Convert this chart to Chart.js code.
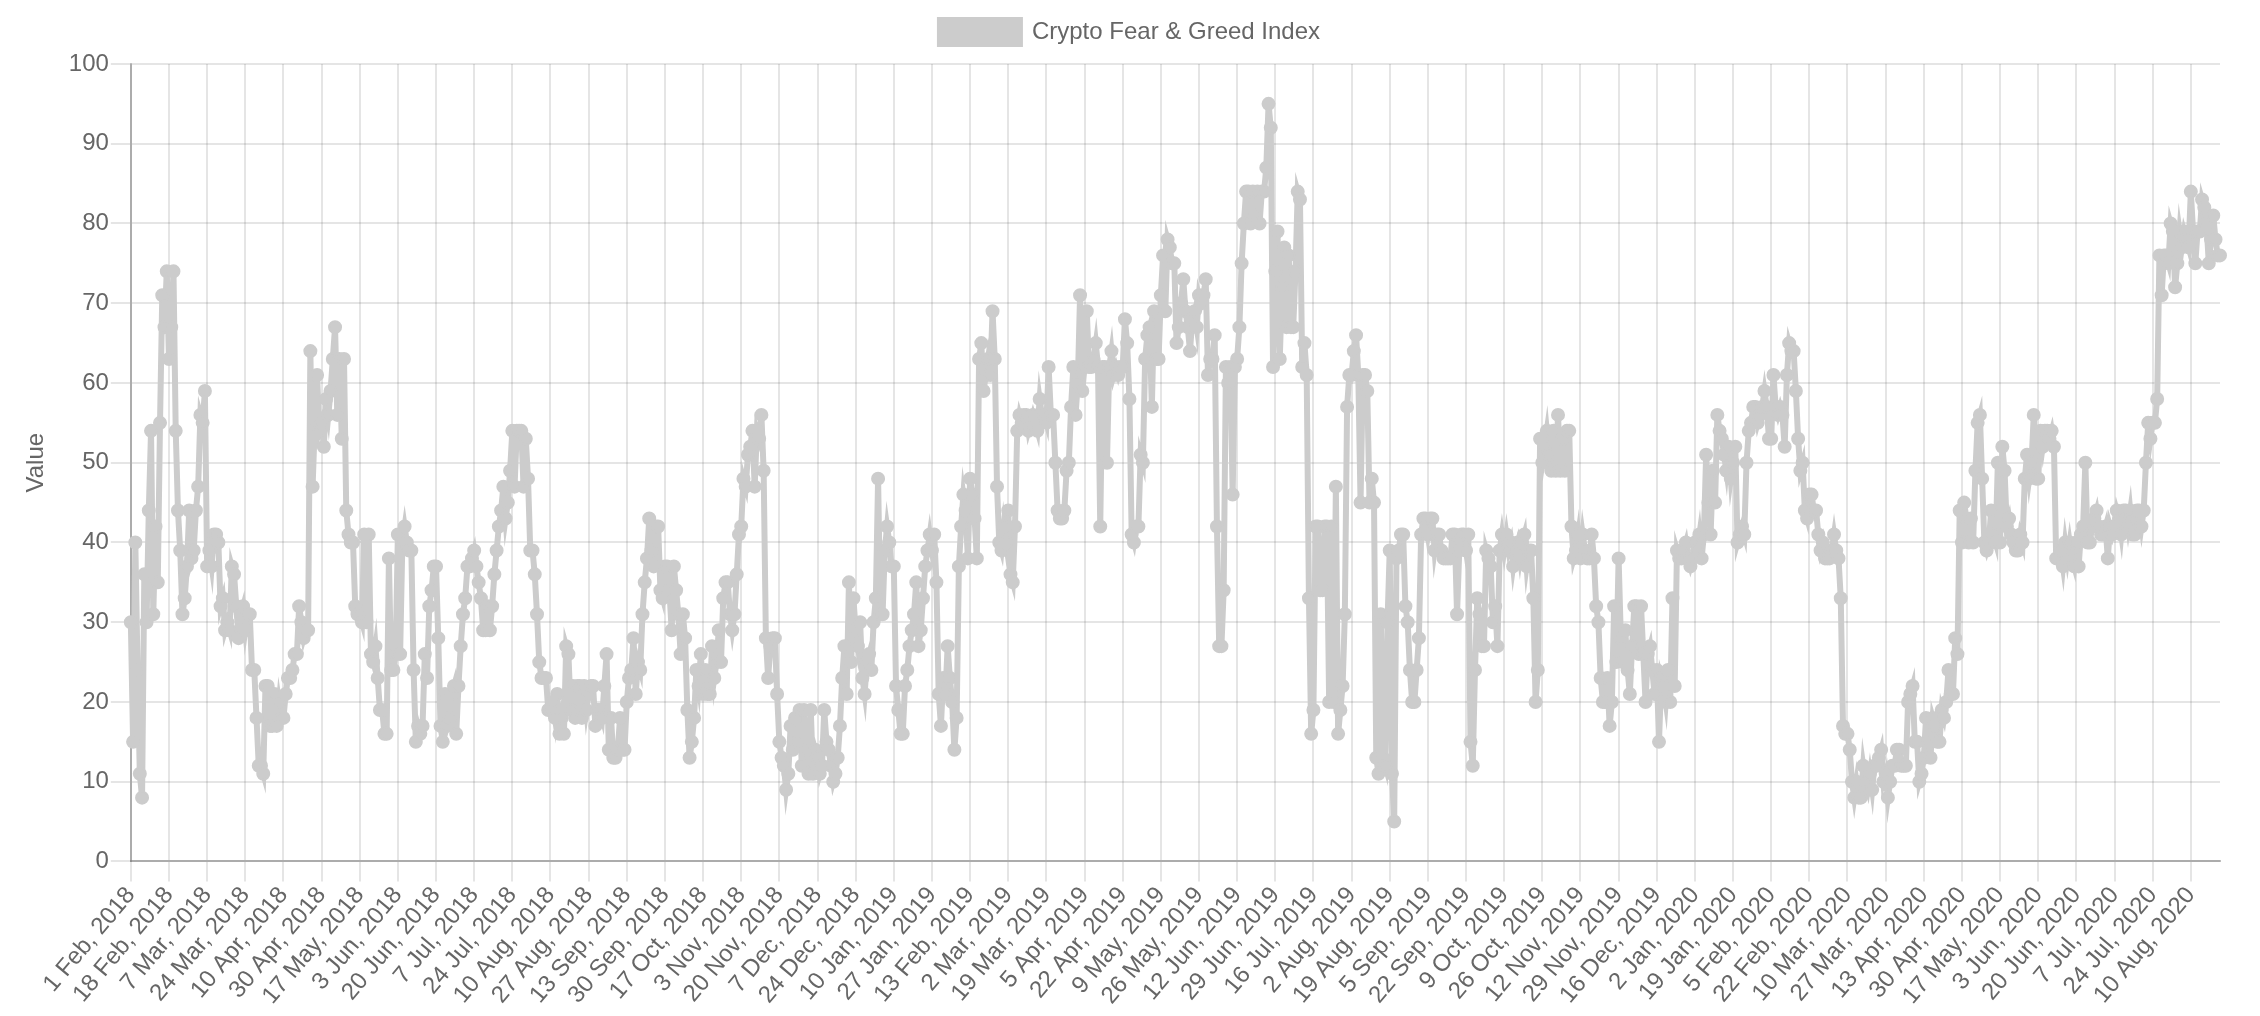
<!DOCTYPE html>
<html>
<head>
<meta charset="utf-8">
<title>Crypto Fear & Greed Index</title>
<script src="https://cdn.jsdelivr.net/npm/chart.js@4.4.1/dist/chart.umd.min.js"></script>
<style>
  html, body { margin: 0; padding: 0; background: #fff; overflow: hidden; }
  #wrap { width: 2260px; height: 1016px; position: relative; }
</style>
</head>
<body>
<div id="wrap"><canvas id="chart"></canvas></div>
<script>
// daily index values
const fgi2018 = [
  30,15,40,24,11,8,36,30,44,54,31,42,35,55,71,67,74,
  63,67,74,54,44,39,31,33,37,44,38,39,44,47,56,55,59,
  37,39,37,41,41,40,32,33,29,30,29,37,36,32,28,31,32,
  29,31,31,24,24,18,12,12,11,22,22,17,17,21,17,20,18,
  18,21,23,23,24,26,26,32,30,28,29,29,64,47,55,61,54,
  55,52,58,56,59,63,67,56,63,53,63,44,41,40,40,32,31,
  31,30,41,30,41,26,25,27,23,19,19,16,16,38,24,24,26,
  41,26,40,42,40,39,39,24,15,17,16,17,26,23,32,34,37,
  37,28,17,15,21,17,18,21,22,16,22,27,31,33,37,37,38,
  39,37,35,33,29,29,32,29,32,36,39,42,44,47,43,45,49,
  54,47,54,54,54,47,53,48,39,39,36,31,25,23,23,23,19,
  19,20,18,21,16,18,16,27,26,19,22,18,22,22,18,22,19,
  21,22,22,17,19,19,18,22,26,14,18,13,13,14,18,14,14,
  20,23,24,28,21,25,24,31,35,38,43,39,37,42,42,34,33,
  37,37,34,29,37,34,31,26,31,28,19,13,15,18,24,22,26,
  21,24,21,21,27,23,25,29,25,33,35,35,31,29,31,36,41,
  42,48,47,51,52,54,47,54,53,56,49,28,23,27,28,28,21,
  15,13,12,9,11,17,14,18,15,19,12,19,14,11,19,11,14,
  13,11,12,19,15,14,12,10,11,13,17,23,27,21,35,25,33,
  29,27,30,23,21,25,26,24
];

const fgi2019 = [
  30,33,48,31,31,39,42,40,37,
  37,22,19,16,16,22,24,27,29,31,35,27,29,33,37,39,41,
  39,41,35,21,17,23,21,27,23,20,14,18,37,42,46,44,38,
  48,46,43,38,63,65,59,61,63,61,69,63,47,40,39,42,40,
  44,36,35,42,54,56,55,56,56,54,55,56,55,54,58,56,56,
  55,62,56,56,50,44,43,43,44,49,50,57,62,56,60,71,59,
  62,69,62,62,63,65,62,42,62,62,50,62,64,61,62,61,62,
  62,68,65,58,41,40,42,42,51,50,63,66,67,57,69,63,63,
  71,76,69,78,77,75,75,65,67,70,73,69,67,64,68,69,67,
  71,70,71,73,61,63,63,66,42,27,27,34,62,60,62,46,62,
  63,67,75,80,84,84,80,84,81,84,80,84,84,87,95,92,62,
  74,79,63,72,77,67,76,67,67,74,84,83,62,65,61,33,16,
  19,42,42,34,34,42,42,20,42,20,47,16,19,22,31,57,61,
  61,64,66,61,45,61,61,59,45,48,45,13,11,31,13,12,30,
  39,11,5,38,39,41,41,32,30,24,20,20,24,28,41,43,43,
  41,43,43,39,41,41,39,38,38,38,38,41,41,31,39,41,41,
  39,41,15,12,24,33,31,27,27,39,38,37,30,32,27,39,41,
  39,41,39,40,37,39,40,38,40,41,37,39,39,33,20,24,53,
  50,52,54,51,49,54,49,56,49,53,49,54,54,42,38,39,41,
  38,41,39,38,38,41,38,32,30,23,20,20,23,17,20,32,25,
  38,28,25,29,24,21,27,32,32,26,32,26,20,26,27,24,21,
  24,15,23,22,20,24,20,33,22,39,38,38,39,40,38,37
];

const fgi2020 = [
  38,
  40,39,41,38,41,51,45,41,49,45,56,54,53,51,49,52,48,
  50,52,40,41,42,41,50,54,55,57,57,55,56,57,59,57,53,
  53,61,57,56,57,56,52,61,65,64,64,59,53,49,50,44,43,
  46,46,44,44,41,39,40,38,38,38,39,41,39,38,33,17,16,
  16,14,10,8,10,8,8,12,10,9,11,9,12,12,13,14,10,
  11,8,10,12,12,14,14,12,12,12,20,21,22,15,15,10,11,
  13,18,15,13,18,17,15,15,19,18,20,24,21,21,28,26,44,
  40,45,43,40,43,40,49,55,56,48,40,39,40,44,41,40,50,
  40,52,49,42,43,41,40,39,39,41,40,48,51,48,50,56,48,
  48,54,52,54,54,53,54,52,38,38,39,37,40,38,40,38,37,
  40,37,41,42,50,40,40,42,43,44,42,41,41,42,38,42,41,
  42,44,43,41,44,44,42,44,41,41,44,44,42,44,50,55,53,
  55,55,58,76,71,76,76,75,80,79,72,75,79,77,79,78,77,
  84,79,75,79,79,83,82,80,75,78,81,78,76,76
];

const firstDay = '2018-02-01';
const missingDays = ['2018-04-14', '2018-04-15', '2018-04-16'];
const monthNames = ['Jan','Feb','Mar','Apr','May','Jun','Jul','Aug','Sep','Oct','Nov','Dec'];
const labelEvery = 17;

const values = fgi2018.concat(fgi2019, fgi2020);

// one label per value, day by day, leaving out the days with no reading
const labels = [];
const day = new Date(firstDay + 'T00:00:00Z');
while (labels.length < values.length) {
  const iso = day.toISOString().slice(0, 10);
  if (!missingDays.includes(iso)) {
    labels.push(day.getUTCDate() + ' ' + monthNames[day.getUTCMonth()] + ', ' + day.getUTCFullYear());
  }
  day.setUTCDate(day.getUTCDate() + 1);
}

// the picture is a 2x render, so every default size is doubled here
Chart.defaults.font.family = "'Helvetica Neue', 'Helvetica', 'Arial', sans-serif";
Chart.defaults.font.size = 24;
Chart.defaults.color = '#666';

const gridColor = 'rgba(0,0,0,0.1)';
const isLabelled = v => v % labelEvery === 0;

// a bit more room under the legend, like the old 2.x layout
const legendGap = {
  id: 'legendGap',
  beforeInit(chart) {
    const fit = chart.legend.fit;
    chart.legend.fit = function () {
      fit.bind(chart.legend)();
      this.height += 10;
    };
  }
};

new Chart(document.getElementById('chart').getContext('2d'), {
  type: 'line',
  data: {
    labels: labels,
    datasets: [{
      label: 'Crypto Fear & Greed Index',
      data: values,
      borderColor: '#cccccc',
      backgroundColor: '#cccccc',
      borderWidth: 6,
      pointRadius: 6,
      pointBorderWidth: 2,
      fill: false,
      tension: 0
    }]
  },
  plugins: [legendGap],
  options: {
    responsive: true,
    maintainAspectRatio: false,
    devicePixelRatio: 1,
    animation: false,
    plugins: {
      legend: {
        display: true,
        labels: { boxWidth: 80, boxHeight: 24, padding: 20 }
      },
      tooltip: { enabled: false }
    },
    scales: {
      x: {
        grid: {
          color: ctx => (ctx.tick && isLabelled(ctx.tick.value) ? gridColor : 'rgba(0,0,0,0)'),
          lineWidth: 2,
          tickLength: 20
        },
        border: { color: 'rgba(0,0,0,0.25)', width: 2 },
        ticks: {
          autoSkip: false,
          maxRotation: 50,
          minRotation: 50,
          padding: 0,
          callback: function (value) {
            return isLabelled(value) ? this.getLabelForValue(value) : null;
          }
        },
        afterFit: scale => {
          scale.height += 6;
          scale.paddingRight = Math.max(scale.paddingRight, 40);
        }
      },
      y: {
        min: 0,
        max: 100,
        grid: { color: gridColor, lineWidth: 2, tickLength: 20 },
        border: { color: 'rgba(0,0,0,0.25)', width: 2 },
        ticks: { stepSize: 10, padding: 2 },
        title: { display: true, text: 'Value', padding: { top: 22, bottom: 16 } }
      }
    }
  }
});
</script>
</body>
</html>
